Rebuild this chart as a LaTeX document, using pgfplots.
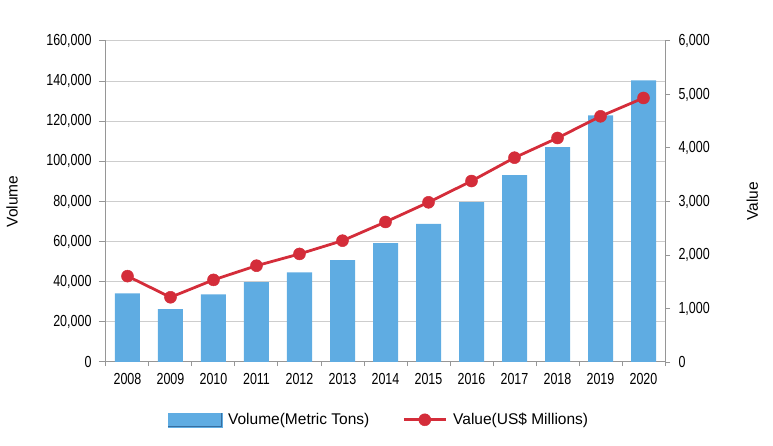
\documentclass[border=0pt]{standalone}
\usepackage{pgfplots}
\pgfplotsset{compat=1.18}
\usepackage{fontspec}
\setmainfont{Liberation Sans}
\newfontfamily\tickfont{Liberation Sans}[FakeStretch=0.78]
\newcommand\tf{\tickfont\fontsize{16bp}{18bp}\selectfont}
\newcommand\lf{\fontsize{15.5bp}{18bp}\selectfont}
\definecolor{barmid}{RGB}{95,172,226}
\definecolor{bardark}{RGB}{55,110,160}
\definecolor{linered}{RGB}{212,45,58}
\definecolor{gridc}{RGB}{205,205,205}
\definecolor{axisc}{RGB}{150,150,150}
\pgfplotsset{
  redline legend/.style={legend image code/.code={\draw[mark repeat=2,mark phase=2,##1] plot coordinates {(0bp,0bp) (21bp,0bp) (42bp,0bp)};}},
  bar legend/.style={legend image code/.code={\fill[barmid] (0bp,-7bp) rectangle (54bp,7bp); \draw[bardark, line width=1bp] (0bp,-6.5bp) -- (53.5bp,-6.5bp) -- (53.5bp,7bp);}},
}
\begin{document}
\begin{tikzpicture}
\useasboundingbox (-106bp,-84bp) rectangle (667bp,362bp);
\begin{axis}[
  at={(0,0)}, anchor=south west,
  scale only axis, width=559bp, height=321bp,
  xmin=-0.5, xmax=12.5, ymin=0, ymax=160000,
  axis y line*=left, axis x line*=bottom,
  axis line style={axisc, line width=1bp, -},
  xtick={0,...,12},
  xticklabels={2008,2009,2010,2011,2012,2013,2014,2015,2016,2017,2018,2019,2020},
  minor xtick={-0.5,0.5,...,12.5},
  major x tick style={draw=none},
  ytick={0,20000,40000,60000,80000,100000,120000,140000,160000},
  scaled y ticks=false,
  yticklabel style={xshift=-4bp, /pgf/number format/.cd,fixed,precision=0,1000 sep={,}},
  /pgf/number format/assume math mode=true,
  ymajorgrids, grid style={gridc, line width=1bp},
  tick style={axisc, line width=1bp},
  tick align=outside,
  major tick length=7bp, minor tick length=4bp,
  ticklabel style={font=\tf},
  xticklabel style={yshift=-1bp},
  ylabel={Volume},
  ylabel style={font=\lf, at={(axis description cs:-0.168,0.5)}, anchor=center},
  ybar, bar width=25bp,
]
\addplot[ybar, draw=none, fill=barmid]
  coordinates {(0,34200) (1,26300) (2,33700) (3,39800) (4,44700) (5,50800) (6,59200)
               (7,68800) (8,79700) (9,93100) (10,107100) (11,122900) (12,140400)};
\end{axis}
\begin{axis}[
  at={(0,0)}, anchor=south west,
  scale only axis, width=559bp, height=321bp,
  xmin=-0.5, xmax=12.5, ymin=0, ymax=6000,
  axis y line*=right, axis x line=none,
  axis line style={axisc, line width=1bp, -},
  ytick={0,1000,2000,3000,4000,5000,6000},
  scaled y ticks=false,
  yticklabel style={xshift=5bp, /pgf/number format/.cd,fixed,precision=0,1000 sep={,}},
  /pgf/number format/assume math mode=true,
  tick style={axisc, line width=1bp},
  tick align=outside,
  major tick length=5bp,
  ticklabel style={font=\tf},
  ylabel={Value},
  ylabel style={font=\lf, at={(axis description cs:1.156,0.5)}, anchor=center},
  legend columns=2,
  legend style={at={(axis description cs:0.488,-0.18)}, anchor=center, draw=none, fill=none,
    font=\lf, /tikz/every odd column/.append style={column sep=4bp},
    /tikz/every even column/.append style={column sep=31bp}},
]
\addlegendimage{bar legend}
\addlegendentry{Volume(Metric Tons)}
\addplot[linered, line width=2.8bp, mark=*, mark size=6bp, mark options={fill=linered, draw=linered, line width=0.5bp}, redline legend]
  coordinates {(0,1605) (1,1210) (2,1535) (3,1800) (4,2020) (5,2268) (6,2617)
               (7,2985) (8,3383) (9,3819) (10,4187) (11,4592) (12,4935)};
\addlegendentry{Value(US\$ Millions)}
\end{axis}
\end{tikzpicture}
\end{document}
